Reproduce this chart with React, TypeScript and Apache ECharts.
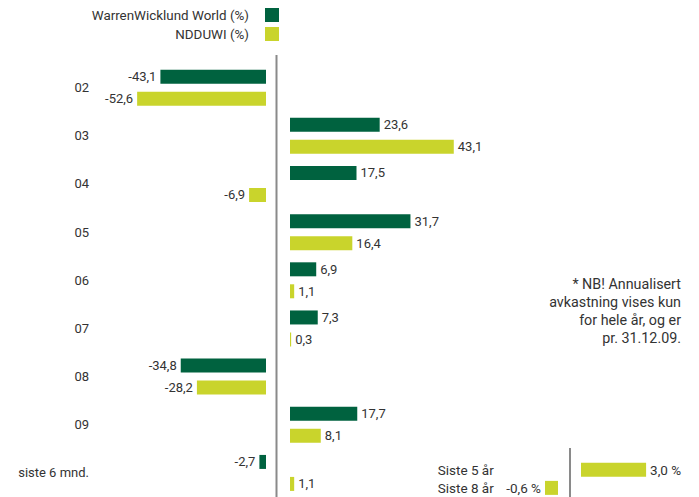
import React, { useEffect, useRef } from "react";
import * as echarts from "echarts";

const categories = ["02", "03", "04", "05", "06", "07", "08", "09", "siste 6 mnd."];
const wwWorld = [-43.1, 23.6, 17.5, 31.7, 6.9, 7.3, -34.8, 17.7, -2.7];
const ndduwi = [-52.6, 43.1, -6.9, 16.4, 1.1, 0.3, -28.2, 8.1, 1.1];
const annualCategories = ["Siste 5 år", "Siste 8 år"];
const annualValues = [3.0, -0.6];
const noteLines = ["* NB! Annualisert", "avkastning vises kun", "for hele år, og er", "pr. 31.12.09."];

const DARK = "#00623f";
const LIGHT = "#c9d42c";
const TEXT = "#333333";
const FONT = "Roboto";

const fmt = (v: number) => v.toFixed(1).replace(".", ",");
const neg = (arr: number[]) => arr.map((v) => (v < 0 ? v : null));
const pos = (arr: number[]) => arr.map((v) => (v >= 0 ? v : null));

export default function App() {
  const ref = useRef<HTMLDivElement>(null);
  useEffect(() => {
    if (!ref.current) return;
    const chart = echarts.init(ref.current, null, { renderer: "svg" });
    const mainTop = 63.6;
    const mainH = 48.7 * categories.length;
    const botTop = 460.5;
    const botH = 38;
    const catAxis = (gridIndex: number, cats: string[], show: boolean, margin: number, fontSize: number) => ({
      type: "category",
      gridIndex,
      data: cats,
      inverse: true,
      axisLine: { show: false },
      axisTick: { show: false },
      axisLabel: {
        show,
        margin,
        fontSize,
        color: TEXT,
        fontFamily: FONT,
      },
    });
    const valAxis = (gridIndex: number, min: number, max: number) => ({
      type: "value",
      gridIndex,
      min,
      max,
      show: false,
      splitLine: { show: false },
    });
    const labelNeg = (suffix: string, fontSize: number) => ({
      show: true,
      position: "left",
      distance: 4,
      fontSize,
      color: TEXT,
      fontFamily: FONT,
      formatter: (p: any) => fmt(p.value) + suffix,
    });
    const labelPos = (suffix: string, fontSize: number) => ({
      show: true,
      position: "right",
      distance: 4,
      fontSize,
      color: TEXT,
      fontFamily: FONT,
      formatter: (p: any) => fmt(p.value) + suffix,
    });
    const barCommon = { type: "bar", barWidth: 14, barGap: "57%" };
    chart.setOption({
      animation: false,
      textStyle: { fontFamily: FONT },
      legend: {
        data: ["WarrenWicklund World (%)", "NDDUWI (%)"],
        orient: "vertical",
        right: 415,
        top: 3,
        align: "right",
        icon: "rect",
        itemWidth: 14,
        itemHeight: 14,
        itemGap: 5,
        selectedMode: false,
        textStyle: { fontSize: 13.4, color: TEXT, fontFamily: FONT, padding: [0, 11, 0, 0] },
      },
      grid: [
        { left: 119, width: 147, top: mainTop, height: mainH },
        { left: 290, width: 380, top: mainTop, height: mainH },
        { left: 503.75, width: 54.25, top: botTop, height: botH },
        { left: 581, width: 65.1, top: botTop, height: botH },
      ],
      xAxis: [valAxis(0, -60, 0), valAxis(1, 0, 100), valAxis(2, -2.5, 0), valAxis(3, 0, 3)],
      yAxis: [
        catAxis(0, categories, true, 30, 13),
        catAxis(1, categories, false, 8, 13),
        catAxis(2, annualCategories, true, 10, 13.5),
        catAxis(3, annualCategories, false, 8, 13.5),
      ],
      series: [
        { ...barCommon, name: "WarrenWicklund World (%)", xAxisIndex: 0, yAxisIndex: 0, data: neg(wwWorld), itemStyle: { color: DARK }, label: labelNeg("", 13) },
        { ...barCommon, name: "NDDUWI (%)", xAxisIndex: 0, yAxisIndex: 0, data: neg(ndduwi), itemStyle: { color: LIGHT }, label: labelNeg("", 13) },
        { ...barCommon, name: "WarrenWicklund World (%)", xAxisIndex: 1, yAxisIndex: 1, data: pos(wwWorld), itemStyle: { color: DARK }, label: labelPos("", 13) },
        { ...barCommon, name: "NDDUWI (%)", xAxisIndex: 1, yAxisIndex: 1, data: pos(ndduwi), itemStyle: { color: LIGHT }, label: labelPos("", 13) },
        { type: "bar", barWidth: 14, name: "annual-neg", xAxisIndex: 2, yAxisIndex: 2, data: neg(annualValues), itemStyle: { color: LIGHT }, label: labelNeg(" %", 13.5) },
        { type: "bar", barWidth: 14, name: "annual-pos", xAxisIndex: 3, yAxisIndex: 3, data: pos(annualValues), itemStyle: { color: LIGHT }, label: labelPos(" %", 13.5) },
      ],
      graphic: [
        { type: "line", shape: { x1: 276.5, y1: 55, x2: 276.5, y2: 497 }, style: { stroke: "#8a8a8a", lineWidth: 2 } },
        { type: "line", shape: { x1: 570, y1: 448, x2: 570, y2: 497 }, style: { stroke: "#8a8a8a", lineWidth: 2 } },
        ...noteLines.map((t, i) => ({
          type: "text",
          x: 681,
          y: 284 + i * 18,
          style: { text: t, fontSize: 14.3, fill: TEXT, fontFamily: FONT, align: "right", verticalAlign: "middle" },
        })),
      ],
    });
    return () => chart.dispose();
  }, []);
  return <div ref={ref} style={{ position: "absolute", left: 0, top: 0, width: 699, height: 497 }} />;
}
